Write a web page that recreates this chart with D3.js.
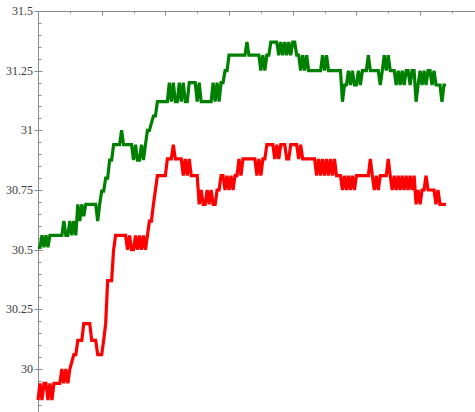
<!DOCTYPE html>
<html>
<head>
<meta charset="utf-8">
<script src="https://cdn.jsdelivr.net/npm/d3@7"></script>
<style>
html,body{margin:0;padding:0;background:#fff;overflow:hidden;}
svg{display:block;}
</style>
</head>
<body>
<svg id="chart" width="475" height="412"></svg>
<script>
// ---- data ----
const yTickLabels = ["30", "30.25", "30.5", "30.75", "31", "31.25", "31.5"];
const yTickValues = [30, 30.25, 30.5, 30.75, 31, 31.25, 31.5];

const greenSeries = [
30.51,30.51,30.56,30.51,30.56,30.51,30.56,30.56,30.56,30.56,
30.56,30.56,30.56,30.62,30.56,30.56,30.62,30.56,30.62,30.56,
30.69,30.62,30.69,30.64,30.69,30.69,30.69,30.69,30.69,30.69,
30.62,30.69,30.745,30.745,30.80,30.80,30.875,30.875,30.94,30.94,
30.94,30.94,31.0,30.94,30.94,30.94,30.94,30.94,30.875,30.94,
30.875,30.875,30.94,30.875,30.94,31.0,31.0,31.03,31.06,31.06,
31.12,31.12,31.12,31.12,31.12,31.12,31.2,31.12,31.2,31.12,
31.12,31.2,31.12,31.2,31.12,31.12,31.2,31.2,31.2,31.2,
31.12,31.2,31.12,31.12,31.12,31.12,31.12,31.12,31.2,31.12,
31.2,31.12,31.2,31.2,31.25,31.25,31.315,31.315,31.315,31.315,
31.315,31.315,31.315,31.315,31.315,31.37,31.315,31.315,31.315,31.315,
31.315,31.315,31.25,31.315,31.25,31.315,31.315,31.37,31.37,31.37,
31.37,31.315,31.37,31.315,31.37,31.315,31.37,31.315,31.37,31.37,
31.315,31.315,31.25,31.315,31.25,31.315,31.25,31.25,31.25,31.25,
31.25,31.25,31.25,31.315,31.25,31.315,31.25,31.25,31.25,31.25,
31.25,31.25,31.25,31.12,31.19,31.19,31.25,31.19,31.25,31.19,
31.19,31.25,31.19,31.25,31.25,31.25,31.315,31.25,31.25,31.25,
31.25,31.25,31.19,31.25,31.315,31.25,31.315,31.25,31.25,31.25,
31.19,31.25,31.19,31.25,31.19,31.25,31.25,31.19,31.25,31.25,
31.12,31.19,31.25,31.19,31.25,31.19,31.25,31.25,31.19,31.25,
31.19,31.19,31.19,31.12,31.19,31.19
];

const redSeries = [
29.87,29.94,29.87,29.94,29.94,29.87,29.94,29.87,29.94,29.94,
29.94,29.94,30.0,29.94,30.0,29.94,30.0,30.03,30.06,30.06,
30.12,30.12,30.12,30.19,30.19,30.19,30.19,30.12,30.12,30.12,
30.06,30.06,30.06,30.12,30.19,30.37,30.37,30.37,30.5,30.56,
30.56,30.56,30.56,30.56,30.56,30.5,30.56,30.5,30.5,30.56,
30.5,30.56,30.5,30.56,30.5,30.56,30.62,30.62,30.69,30.75,
30.81,30.81,30.81,30.81,30.81,30.88,30.88,30.88,30.94,30.88,
30.88,30.88,30.88,30.81,30.88,30.81,30.88,30.81,30.81,30.81,
30.81,30.69,30.75,30.69,30.69,30.75,30.69,30.75,30.69,30.69,
30.75,30.75,30.81,30.81,30.75,30.81,30.75,30.81,30.75,30.81,
30.81,30.88,30.81,30.88,30.88,30.88,30.88,30.88,30.88,30.88,
30.81,30.88,30.81,30.88,30.88,30.94,30.94,30.94,30.94,30.88,
30.94,30.88,30.94,30.94,30.94,30.88,30.88,30.94,30.94,30.94,
30.94,30.88,30.94,30.88,30.88,30.88,30.88,30.88,30.88,30.88,
30.81,30.88,30.81,30.88,30.81,30.88,30.81,30.88,30.81,30.88,
30.81,30.81,30.81,30.75,30.81,30.75,30.81,30.75,30.81,30.75,
30.81,30.81,30.81,30.81,30.81,30.81,30.81,30.88,30.81,30.75,
30.81,30.75,30.81,30.81,30.81,30.81,30.88,30.81,30.75,30.81,
30.75,30.81,30.75,30.81,30.75,30.81,30.75,30.81,30.75,30.81,
30.69,30.75,30.69,30.75,30.75,30.81,30.75,30.75,30.75,30.75,
30.69,30.75,30.69,30.69,30.69,30.69
];

const seriesColors = ["#008000", "#ff0000"];

// ---- drawing ----
const svg = d3.select("#chart");
const W = 475, H = 412;
const x = d3.scaleLinear().domain([0, 205]).range([38, 38 + 205 * 1.99]);
const y = d3.scaleLinear().domain([30, 31.5]).range([369, 11]);

const axisColor = "#8c8c8c";

// top frame axis with ticks pointing down
const topMajor = d3.range(0, 220, 32);
const topMinor = d3.range(16, 220, 32);
svg.append("line").attr("x1", 38).attr("x2", W).attr("y1", 11.5).attr("y2", 11.5)
  .attr("stroke", axisColor).attr("stroke-width", 1);
svg.selectAll(".tmaj").data(topMajor).enter().append("line")
  .attr("x1", d => Math.round(x(d)) + 0.5).attr("x2", d => Math.round(x(d)) + 0.5)
  .attr("y1", 11.5).attr("y2", 15.5).attr("stroke", axisColor);
svg.selectAll(".tmin").data(topMinor).enter().append("line")
  .attr("x1", d => Math.round(x(d)) + 0.5).attr("x2", d => Math.round(x(d)) + 0.5)
  .attr("y1", 11.5).attr("y2", 13.5).attr("stroke", axisColor);

// left axis
const yMinor = d3.range(29.8, 31.51, 0.05).filter(v => Math.abs((v * 4) - Math.round(v * 4)) > 1e-6);
svg.append("line").attr("x1", 38.5).attr("x2", 38.5).attr("y1", 11).attr("y2", H)
  .attr("stroke", axisColor).attr("stroke-width", 1);
svg.selectAll(".ymaj").data(yTickValues).enter().append("line")
  .attr("x1", 34.5).attr("x2", 42.5)
  .attr("y1", d => Math.round(y(d)) + 0.5).attr("y2", d => Math.round(y(d)) + 0.5)
  .attr("stroke", axisColor);
svg.selectAll(".ymin").data(yMinor).enter().append("line")
  .attr("x1", 38.5).attr("x2", 41.5)
  .attr("y1", d => Math.round(y(d)) + 0.5).attr("y2", d => Math.round(y(d)) + 0.5)
  .attr("stroke", axisColor);
svg.selectAll(".ylab").data(yTickValues).enter().append("text")
  .attr("x", 33).attr("y", d => y(d) + 4)
  .attr("text-anchor", "end")
  .style("font-family", "\"Liberation Serif\", \"Times New Roman\", \"DejaVu Serif\", serif")
  .style("font-size", "12px")
  .attr("fill", "#3a3a3a")
  .text((d, i) => yTickLabels[i]);

// lines
const line = d3.line().x((d, i) => x(i)).y(d => y(d));
[greenSeries, redSeries].forEach((s, k) => {
  svg.append("path").datum(s)
    .attr("d", line)
    .attr("fill", "none")
    .attr("stroke", seriesColors[k])
    .attr("stroke-width", 3.2)
    .attr("stroke-linejoin", "miter")
    .attr("stroke-miterlimit", 2);
});
</script>
</body>
</html>
